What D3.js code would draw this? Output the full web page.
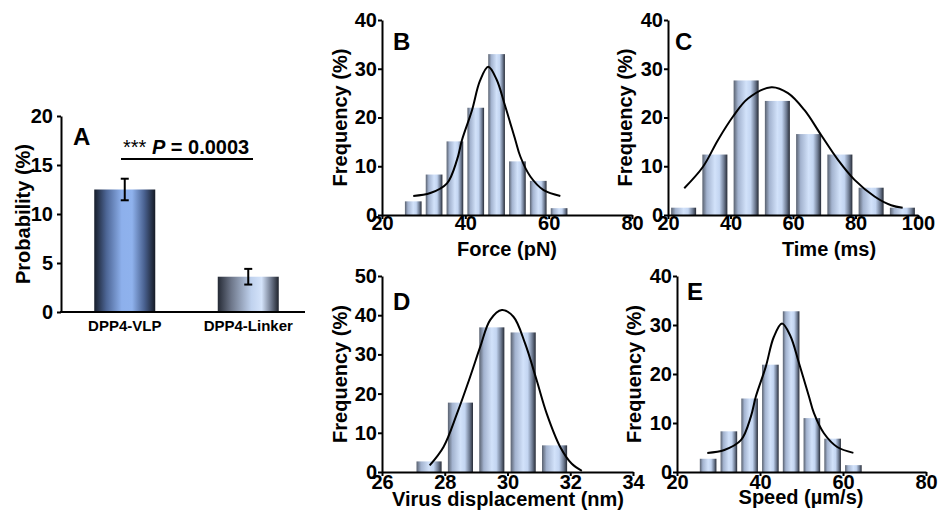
<!DOCTYPE html>
<html>
<head>
<meta charset="utf-8">
<script src="https://cdn.jsdelivr.net/npm/d3@7"></script>
<style>
  body { margin: 0; background: #fff; }
  svg text { font-family: "Liberation Sans", Arial, sans-serif; font-weight: bold; fill: #000; }
</style>
</head>
<body>
<svg id="fig" width="938" height="520"></svg>
<script>
"use strict";

// panel A: binding probability
const groupsA = ["DPP4-VLP", "DPP4-Linker"];
const probA = [12.5, 3.6];
const errA = [1.1, 0.8];
const ticksA = [0, 5, 10, 15, 20];

// panel B: rupture force
const binsB = [27.5, 32.5, 37.5, 42.5, 47.5, 52.5, 57.5, 62.5];
const freqB = [2.8, 8.3, 15.1, 22.0, 33.0, 11.0, 7.0, 1.4];
const fitXB = [27.5, 31.6, 35.6, 38.0, 39.2, 41.6, 43.5, 45.5, 47.5, 49.5, 52.0, 53.2, 55.6, 58.8, 62.8];
const fitYB = [3.9, 4.5, 6.5, 11.3, 15.4, 21.5, 27.5, 30.4, 27.8, 22.5, 15.4, 12.0, 7.9, 5.1, 3.9];

// panel C: bond lifetime
const binsC = [25, 35, 45, 55, 65, 75, 85, 95];
const freqC = [1.5, 12.4, 27.6, 23.4, 16.6, 12.4, 5.6, 1.5];
const fitXC = [25.2, 31.2, 36.0, 40.8, 45.6, 53.1, 58.4, 63.7, 69.0, 74.4, 79.7, 86.1, 91.4, 95.1];
const fitYC = [5.5, 9.9, 15.4, 20.2, 23.9, 26.2, 25.0, 21.5, 16.4, 11.3, 7.2, 3.8, 2.0, 1.5];

// panel D: virus displacement
const binsD = [27.5, 28.5, 29.5, 30.5, 31.5];
const freqD = [2.7, 17.7, 36.9, 35.6, 6.8];
const fitXD = [27.52, 27.96, 28.39, 28.81, 29.13, 29.45, 29.82, 30.19, 30.56, 30.93, 31.25, 31.68, 32.05, 32.37];
const fitYD = [1.7, 6.4, 14.9, 24.3, 31.9, 38.8, 41.3, 39.6, 32.8, 23.4, 14.9, 6.4, 2.1, 0.3];

// panel E: speed
const binsE = [27.5, 32.5, 37.5, 42.5, 47.5, 52.5, 57.5, 62.5];
const freqE = [2.7, 8.3, 15.0, 21.9, 32.8, 11.0, 6.8, 1.4];
const fitXE = [27.3, 31.4, 35.4, 37.8, 39.0, 41.4, 43.3, 45.3, 47.3, 49.3, 51.8, 53.0, 55.4, 58.6, 62.5];
const fitYE = [3.9, 4.5, 6.5, 11.3, 15.4, 21.5, 27.5, 30.3, 27.8, 22.5, 15.4, 12.0, 7.9, 5.1, 3.9];

const svg = d3.select("#fig");
const defs = svg.append("defs");
const FONT = 20;

// horizontal shading of the bars
const gradients = {
	gHist: [[0, "#59616f"], [0.18, "#a3b3cf"], [0.5, "#d2e2fa"], [0.68, "#c3d5f1"], [0.86, "#707d94"], [1, "#262b36"]],
	gVlp: [[0, "#161d2b"], [0.2, "#4d6696"], [0.45, "#8db0ec"], [0.62, "#8fb2ed"], [0.82, "#4a6291"], [1, "#151a25"]],
	gLinker: [[0, "#252a35"], [0.22, "#6d7689"], [0.55, "#c0d2ee"], [0.72, "#d4e3fa"], [0.88, "#6b7589"], [1, "#1e222b"]]
};
Object.keys(gradients).forEach(function(id) {
	defs.append("linearGradient")
		.attr("id", id)
		.attr("x1", 0).attr("x2", 1).attr("y1", 0).attr("y2", 0)
		.selectAll("stop")
		.data(gradients[id])
		.join("stop")
		.attr("offset", d => d[0])
		.attr("stop-color", d => d[1]);
});

function styleAxis(g) {
	g.selectAll(".domain").attr("stroke", "#000").attr("stroke-width", 2);
	g.selectAll(".tick line").attr("stroke", "#000").attr("stroke-width", 2);
	g.selectAll(".tick text")
		.style("font-size", FONT + "px")
		.style("font-family", "'Liberation Sans', Arial, sans-serif")
		.style("font-weight", "bold")
		.attr("fill", "#000");
}

function yTitle(text, x, y) {
	svg.append("text")
		.attr("transform", "translate(" + x + "," + y + ") rotate(-90)")
		.attr("text-anchor", "middle")
		.style("font-size", FONT + "px")
		.text(text);
}

// ---- panel A ----
(function() {
	let y = d3.scaleLinear().domain([0, 20]).range([312, 116]);
	let x = d3.scalePoint().domain(groupsA).range([63, 310]).padding(0.5);
	let barW = 61;
	let fills = ["url(#gVlp)", "url(#gLinker)"];

	svg.append("g")
		.selectAll("rect")
		.data(groupsA)
		.join("rect")
		.attr("x", d => x(d) - barW / 2)
		.attr("width", barW)
		.attr("y", (d, i) => y(probA[i]))
		.attr("height", (d, i) => y(0) - y(probA[i]))
		.attr("fill", (d, i) => fills[i]);

	let err = svg.append("g").attr("stroke", "#000").attr("stroke-width", 2);
	groupsA.forEach(function(d, i) {
		let cx = x(d);
		err.append("line").attr("x1", cx).attr("x2", cx)
			.attr("y1", y(probA[i] - errA[i])).attr("y2", y(probA[i] + errA[i]));
		[probA[i] - errA[i], probA[i] + errA[i]].forEach(function(v) {
			err.append("line").attr("x1", cx - 4).attr("x2", cx + 4)
				.attr("y1", y(v)).attr("y2", y(v));
		});
	});

	let ya = svg.append("g")
		.attr("transform", "translate(61,0)")
		.call(d3.axisLeft(y).tickValues(ticksA).tickSize(4).tickSizeOuter(0).tickPadding(4));
	styleAxis(ya);

	svg.append("line")
		.attr("x1", 60).attr("x2", 305)
		.attr("y1", y(0)).attr("y2", y(0))
		.attr("stroke", "#000").attr("stroke-width", 2);

	svg.append("g")
		.selectAll("text")
		.data(groupsA)
		.join("text")
		.attr("x", d => x(d))
		.attr("y", 331)
		.attr("text-anchor", "middle")
		.style("font-size", "15px")
		.text(d => d);

	yTitle("Probability (%)", 30, 214);

	svg.append("text").attr("x", 73).attr("y", 145).style("font-size", "24px").text("A");

	// significance bracket
	svg.append("line")
		.attr("x1", 121).attr("x2", 253)
		.attr("y1", 159).attr("y2", 159)
		.attr("stroke", "#000").attr("stroke-width", 2);
	let sig = svg.append("text").attr("x", 123).attr("y", 154).style("font-size", FONT + "px");
	sig.append("tspan").style("font-weight", "normal").text("*** ");
	sig.append("tspan").style("font-style", "italic").text("P");
	sig.append("tspan").text(" = 0.0003");
}());

// ---- histogram panels ----
function histPanel(cfg) {
	let x = d3.scaleLinear().domain(cfg.xDomain).range(cfg.xRange);
	let y = d3.scaleLinear().domain(cfg.yDomain).range(cfg.yRange);
	let barW = x(cfg.xDomain[0] + cfg.binWidth * 0.8) - x(cfg.xDomain[0]);

	svg.append("g")
		.selectAll("rect")
		.data(cfg.bins)
		.join("rect")
		.attr("x", d => x(d) - barW / 2)
		.attr("width", barW)
		.attr("y", (d, i) => y(cfg.freq[i]))
		.attr("height", (d, i) => y(0) - y(cfg.freq[i]))
		.attr("fill", "url(#gHist)");

	let pts = cfg.fitX.map((v, i) => [v, cfg.fitY[i]]);
	svg.append("path")
		.datum(pts)
		.attr("fill", "none")
		.attr("stroke", "#000")
		.attr("stroke-width", 2)
		.attr("d", d3.line()
			.x(d => x(d[0]))
			.y(d => y(d[1]))
			.curve(d3.curveCatmullRom.alpha(0.5)));

	let xa = svg.append("g")
		.attr("transform", "translate(0," + cfg.yRange[0] + ")")
		.call(d3.axisBottom(x).tickValues(cfg.xTicks).tickSize(4).tickSizeOuter(0).tickPadding(cfg.xPad));
	styleAxis(xa);

	let ya = svg.append("g")
		.attr("transform", "translate(" + cfg.xRange[0] + ",0)")
		.call(d3.axisLeft(y).tickValues(cfg.yTicks).tickSize(4).tickSizeOuter(0).tickPadding(1));
	styleAxis(ya);

	svg.append("text")
		.attr("x", cfg.titleX)
		.attr("y", cfg.titleY)
		.attr("text-anchor", "middle")
		.style("font-size", FONT + "px")
		.text(cfg.xTitle);

	yTitle("Frequency (%)", cfg.yTitleX, (cfg.yRange[0] + cfg.yRange[1]) / 2);

	svg.append("text")
		.attr("x", cfg.letterX).attr("y", cfg.letterY)
		.style("font-size", "24px")
		.text(cfg.letter);
}

histPanel({
	letter: "B", letterX: 393, letterY: 50,
	xDomain: [20, 80], xRange: [382, 632], xTicks: [20, 40, 60, 80],
	yDomain: [0, 40], yRange: [215, 20], yTicks: [0, 10, 20, 30, 40],
	bins: binsB, freq: freqB, binWidth: 5, fitX: fitXB, fitY: fitYB, xPad: -3,
	xTitle: "Force (pN)", titleX: 507, titleY: 256, yTitleX: 347
});

histPanel({
	letter: "C", letterX: 675, letterY: 50,
	xDomain: [20, 100], xRange: [668, 918], xTicks: [20, 40, 60, 80, 100],
	yDomain: [0, 40], yRange: [215, 20], yTicks: [0, 10, 20, 30, 40],
	bins: binsC, freq: freqC, binWidth: 10, fitX: fitXC, fitY: fitYC, xPad: -3,
	xTitle: "Time (ms)", titleX: 829, titleY: 256, yTitleX: 632
});

histPanel({
	letter: "D", letterX: 393, letterY: 310,
	xDomain: [26, 34], xRange: [382, 633], xTicks: [26, 28, 30, 32, 34],
	yDomain: [0, 50], yRange: [472, 276], yTicks: [0, 10, 20, 30, 40, 50],
	bins: binsD, freq: freqD, binWidth: 1, fitX: fitXD, fitY: fitYD, xPad: -1,
	xTitle: "Virus displacement (nm)", titleX: 508, titleY: 506, yTitleX: 347
});

histPanel({
	letter: "E", letterX: 687, letterY: 300,
	xDomain: [20, 80], xRange: [677, 926], xTicks: [20, 40, 60, 80],
	yDomain: [0, 40], yRange: [472, 276], yTicks: [0, 10, 20, 30, 40],
	bins: binsE, freq: freqE, binWidth: 5, fitX: fitXE, fitY: fitYE, xPad: -1,
	xTitle: "Speed (\u00b5m/s)", titleX: 801, titleY: 504, yTitleX: 641
});
</script>
</body>
</html>
